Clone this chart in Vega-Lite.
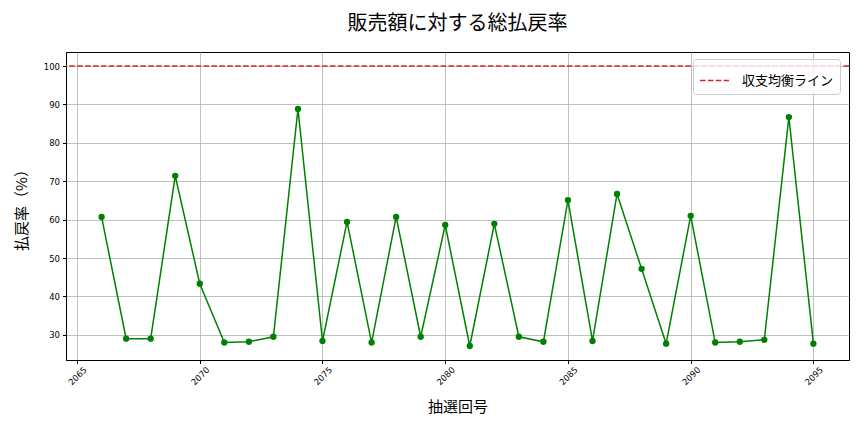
{
  "$schema": "https://vega.github.io/schema/vega-lite/v6.json",
  "width": 783,
  "height": 308,
  "autosize": {"type": "none"},
  "padding": {"left": 66, "top": 52, "right": 15, "bottom": 72},
  "background": "white",
  "title": {
    "text": "販売額に対する総払戻率",
    "fontSize": 20,
    "fontWeight": "normal",
    "font": "Noto Sans CJK JP",
    "color": "black",
    "anchor": "middle",
    "offset": 18
  },
  "config": {
    "font": "Noto Sans CJK JP",
    "view": {"stroke": "black", "strokeWidth": 1},
    "axis": {
      "domainColor": "black",
      "tickColor": "black",
      "tickSize": 3.5,
      "gridColor": "#b0b0b0",
      "gridWidth": 0.8,
      "labelColor": "black",
      "labelFont": "DejaVu Sans",
      "labelFontSize": 8.5,
      "titleFontSize": 15,
      "titleFontWeight": "normal",
      "titleColor": "black"
    }
  },
  "layer": [
    {
      "data": {
        "values": [
          {"draw": 2066, "rate": 60.7},
          {"draw": 2067, "rate": 29.0},
          {"draw": 2068, "rate": 29.0},
          {"draw": 2069, "rate": 71.4},
          {"draw": 2070, "rate": 43.3},
          {"draw": 2071, "rate": 28.0},
          {"draw": 2072, "rate": 28.2},
          {"draw": 2073, "rate": 29.5},
          {"draw": 2074, "rate": 88.8},
          {"draw": 2075, "rate": 28.4},
          {"draw": 2076, "rate": 59.4},
          {"draw": 2077, "rate": 28.0},
          {"draw": 2078, "rate": 60.7},
          {"draw": 2079, "rate": 29.5},
          {"draw": 2080, "rate": 58.6},
          {"draw": 2081, "rate": 27.1},
          {"draw": 2082, "rate": 58.9},
          {"draw": 2083, "rate": 29.5},
          {"draw": 2084, "rate": 28.2},
          {"draw": 2085, "rate": 65.1},
          {"draw": 2086, "rate": 28.4},
          {"draw": 2087, "rate": 66.7},
          {"draw": 2088, "rate": 47.2},
          {"draw": 2089, "rate": 27.7},
          {"draw": 2090, "rate": 61.0},
          {"draw": 2091, "rate": 28.0},
          {"draw": 2092, "rate": 28.2},
          {"draw": 2093, "rate": 28.7},
          {"draw": 2094, "rate": 86.7},
          {"draw": 2095, "rate": 27.7}
        ]
      },
      "mark": {
        "type": "line",
        "color": "#008000",
        "strokeWidth": 1.5,
        "point": {"filled": true, "size": 40, "color": "#008000", "opacity": 1}
      },
      "encoding": {
        "x": {
          "field": "draw",
          "type": "quantitative",
          "title": "抽選回号",
          "scale": {"domain": [2064.55, 2096.45], "nice": false, "zero": false},
          "axis": {
            "values": [2065, 2070, 2075, 2080, 2085, 2090, 2095],
            "format": "d",
            "labelAngle": -45,
            "labelAlign": "center",
            "labelBaseline": "middle",
            "labelPadding": 12,
            "titlePadding": 13
          }
        },
        "y": {
          "field": "rate",
          "type": "quantitative",
          "title": "払戻率（%）",
          "scale": {"domain": [23.45, 103.65], "nice": false, "zero": false},
          "axis": {
            "values": [30, 40, 50, 60, 70, 80, 90, 100],
            "labelPadding": 3,
            "titlePadding": 14
          }
        }
      }
    },
    {
      "data": {"values": [{"line": "収支均衡ライン", "level": 100}]},
      "mark": {"type": "rule", "strokeWidth": 1.5, "strokeDash": [5.5, 2.4]},
      "encoding": {
        "y": {"field": "level", "type": "quantitative"},
        "color": {
          "field": "line",
          "type": "nominal",
          "scale": {"range": ["#d62728"]},
          "legend": {
            "title": null,
            "orient": "none",
            "legendX": 627,
            "legendY": 7,
            "symbolType": "stroke",
            "symbolSize": 841,
            "symbolStrokeWidth": 1.5,
            "symbolDash": [5.5, 2.4],
            "labelFontSize": 13,
            "labelColor": "black",
            "labelOffset": 12,
            "padding": 6,
            "strokeColor": "#cccccc",
            "cornerRadius": 3,
            "fillColor": "rgba(255,255,255,0.8)"
          }
        }
      }
    }
  ]
}
